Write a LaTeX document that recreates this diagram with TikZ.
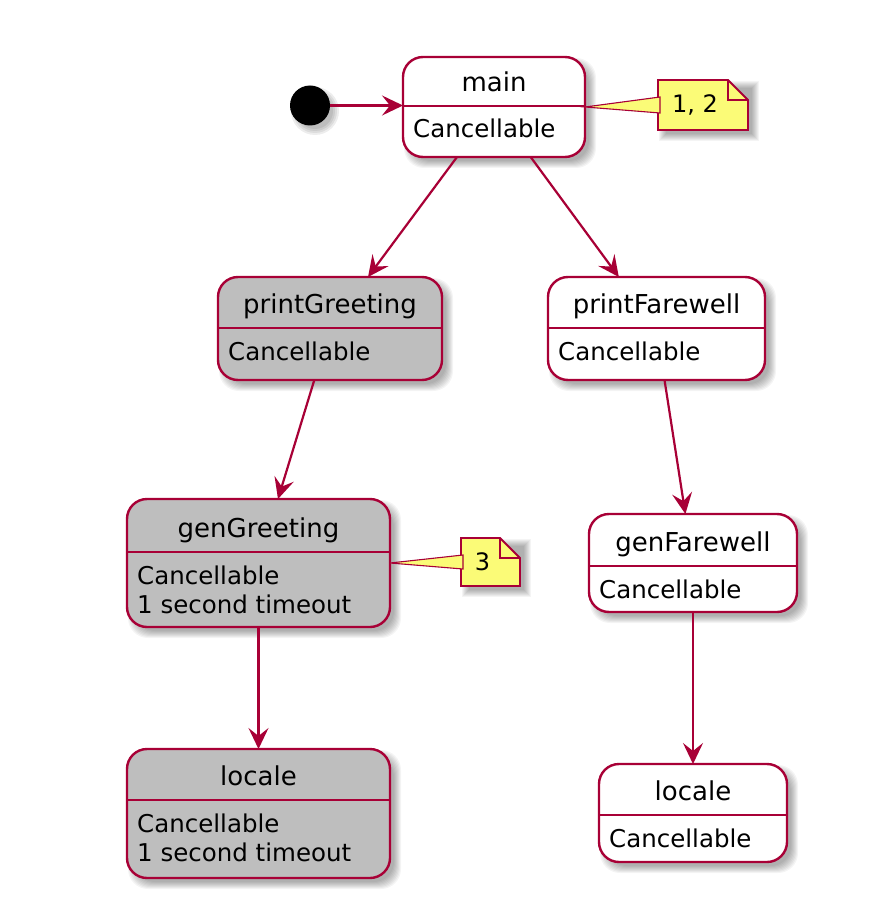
\documentclass[tikz,border=0pt]{standalone}
\usepackage{fontspec}
\setmainfont{DejaVu Sans}
\usetikzlibrary{arrows.meta,calc}
\definecolor{umlred}{HTML}{A80036}
\definecolor{umlgrey}{RGB}{190,190,190}
\definecolor{notefill}{HTML}{FBFB77}

\tikzset{
  statebox/.style={draw=umlred, line width=2.4pt, rounded corners=20pt, inner sep=0pt, outer sep=0pt},
  border/.style={draw=umlred, line width=2.2pt},
  titletext/.style={font=\fontsize{26}{30}\selectfont, inner sep=0pt},
  desctext/.style={font=\fontsize{24.5}{29}\selectfont, inner sep=0pt, anchor=base west},
  notetext/.style={font=\fontsize{24}{28}\selectfont, inner sep=0pt},
  noteline/.style={draw=umlred, line width=1.8pt, fill=notefill, line join=miter},
  wedge/.style={draw=umlred, line width=1.1pt, fill=notefill},
  conn/.style={draw=umlred, line width=2.2pt, -{Stealth[length=21pt,width=20pt,inset=8pt]}},
}

\newcommand\softshadow[5]{%
  \foreach \e in {-2,-1,0,1,2,3,4,5}{%
    \fill[black,opacity=0.045,rounded corners=#5pt] ({#1+6-\e},{#2+6-\e}) rectangle ({#3+6+\e},{#4+6+\e});}}

% name, x1, y1, x2, y2, ydiv, fill, title, description lines
\newcommand\umlstate[9]{%
  \softshadow{#2}{#3}{#4}{#5}{20}
  \node[statebox, fill=#7, minimum width={(#4-#2)*1pt}, minimum height={(#5-#3)*1pt}] (#1) at ({(#2+#4)/2},{(#3+#5)/2}) {};
  \coordinate (#1-dv) at (0,#6);
  \draw[border] (#1.west |- #1-dv) -- (#1.east |- #1-dv);
  \node[titletext, anchor=base] (#1-t) at ({(#2+#4)/2},{#6-14.5}) {#8};
  \foreach \ln [count=\i] in {#9}{%
    \node[desctext] (#1-d\i) at ({#2+10},{#6+32+(\i-1)*29}) {\ln};}
}

% name, x1, y1, x2, y2, text
\newcommand\umlnote[6]{%
  \softshadow{#2}{#3}{#4}{#5}{0}
  \node[inner sep=0pt, outer sep=0pt, minimum width={(#4-#2)*1pt}, minimum height={(#5-#3)*1pt}] (#1) at ({(#2+#4)/2},{(#3+#5)/2}) {};
  \draw[noteline] (#2,#3) -- ({#4-20},#3) -- (#4,{#3+20}) -- (#4,#5) -- (#2,#5) -- cycle;
  \draw[noteline, fill=none] ({#4-20},#3) -- ({#4-20},{#3+20}) -- (#4,{#3+20});
  \node[notetext] (#1-t) at ({(#2+#4)/2-8},{(#3+#5)/2}) {#6};
}

\begin{document}
\begin{tikzpicture}[x=1pt,y=-1pt]
\fill[white] (0,0) rectangle (890,912);
\useasboundingbox (0,0) rectangle (890,912);

% initial state
\foreach \r in {18,20,22,24}{\fill[black,opacity=0.07] (315,111) circle (\r);}
\node[circle, fill=black, minimum size=40pt, inner sep=0pt, outer sep=0pt] (init) at (310,105.5) {};

\umlstate{main}{403}{57}{585}{157}{106}{white}{main}{Cancellable}
\umlstate{pg}{218}{277}{442}{380}{328}{umlgrey}{printGreeting}{Cancellable}
\umlstate{pf}{548}{277}{765}{380}{328}{white}{printFarewell}{Cancellable}
\umlstate{gg}{127}{499}{390}{627}{552}{umlgrey}{genGreeting}{Cancellable,1 second timeout}
\umlstate{gf}{589}{514}{797}{612}{566}{white}{genFarewell}{Cancellable}
\umlstate{ll}{127}{749}{390}{878}{800}{umlgrey}{locale}{Cancellable,1 second timeout}
\umlstate{lr}{599}{764}{787}{862}{815}{white}{locale}{Cancellable}

% notes
\umlnote{n12}{658}{80}{748}{130}{1, 2}
\draw[wedge] (main.east) -- ($(n12.west)+(2,-8)$) -- ($(n12.west)+(2,8)$) -- cycle;
\umlnote{n3}{461}{538}{520}{586}{3}
\draw[wedge] (gg.east) -- ($(n3.west)+(2,-7)$) -- ($(n3.west)+(2,7)$) -- cycle;

% transitions
\draw[conn] (init.east) -- (main.west |- init);
\draw[conn] (main) -- (pg);
\draw[conn] (main) -- (pf);
\draw[conn] (pg) -- (gg);
\draw[conn] (pf) -- (gf);
\draw[conn] (gg) -- (ll);
\draw[conn] (gf) -- (lr);
\end{tikzpicture}
\end{document}
